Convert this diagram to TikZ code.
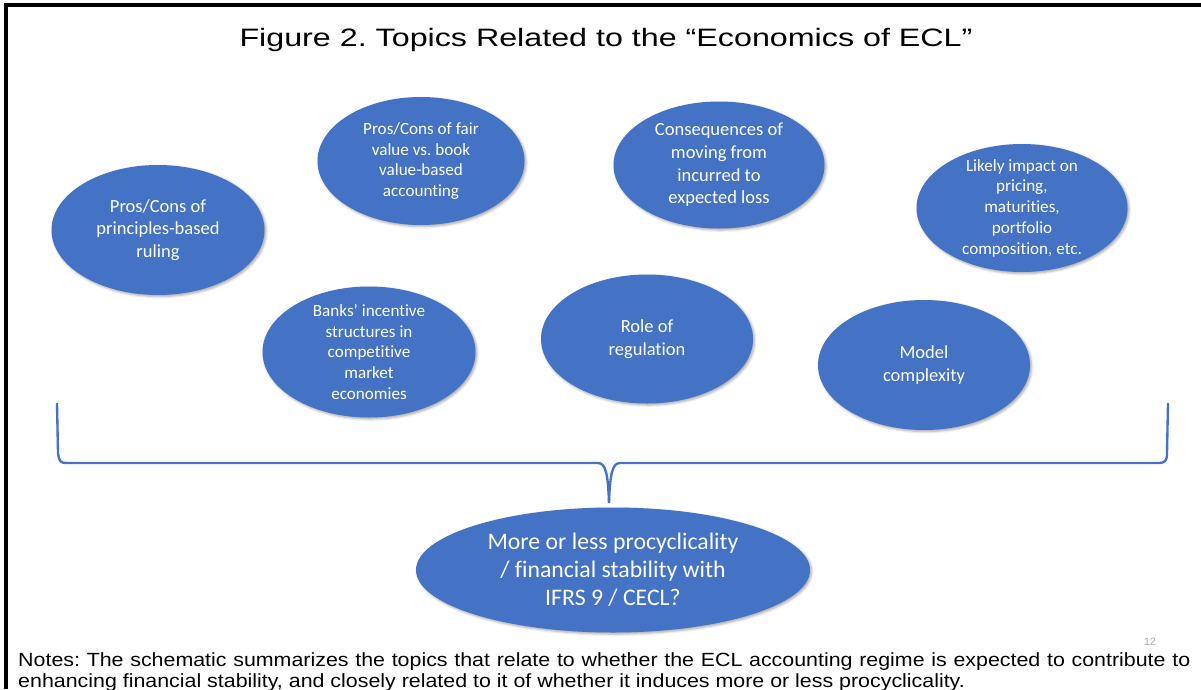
\documentclass[tikz,border=0pt]{standalone}
\usepackage{fontspec}
\setmainfont{Liberation Sans}
\newfontfamily\titlefont[FakeStretch=1.28]{Liberation Sans}
\newfontfamily\notefont[FakeStretch=1.12]{Liberation Sans}
\newfontfamily\topicfont[Ligatures=NoCommon]{Carlito}
\usetikzlibrary{shapes}
\usetikzlibrary{shadows.blur}
\definecolor{ecl-blue}{HTML}{4472C4}
\newcommand{\pxu}{0.03cm}
\frenchspacing
\tikzset{
  topic/.style 2 args={
    ellipse,
    fill=ecl-blue,
    text=white,
    align=center,
    inner sep=-30pt,
    minimum width=#1*\pxu,
    minimum height=#2*\pxu,
    blur shadow={shadow xshift=1.3pt, shadow yshift=-1.3pt, shadow opacity=35, shadow blur steps=4}},
  tsmall/.style={font=\topicfont\fontsize{14.6}{17.7}\selectfont},
  tlarge/.style={font=\topicfont\fontsize{15.8}{19.3}\selectfont},
  tbig/.style={font=\topicfont\fontsize{20.3}{24}\selectfont},
  noteline/.style={font=\notefont\fontsize{16.3}{19.6}\selectfont, anchor=base west, inner xsep=0pt, inner ysep=5pt},
}

\begin{document}
\begin{tikzpicture}[x=\pxu, y=-\pxu,
  brace/.style={draw=ecl-blue, line width=2pt, line join=round}]
  \useasboundingbox (0,0) rectangle (1201,689);

  % frame and title
  \draw[line width=2.6pt] (6,689) -- (6,5) -- (1201,5);
  \node[font=\titlefont\fontsize{21.5}{26}\selectfont, anchor=base] (title) at (606,46)
    {Figure 2. Topics Related to the “Economics of ECL”};

  % topics
  \node[topic={213}{130}, tlarge] (principles) at (158,230) {Pros/Cons of\\principles-based\\ruling};
  \node[topic={207}{128}, tsmall] (fairvalue) at (421,161) {Pros/Cons of fair\\value vs. book\\value-based\\accounting};
  \node[topic={211}{127}, tlarge] (lossmodel) at (719,165) {Consequences of\\moving from\\incurred to\\expected loss};
  \node[topic={211}{128}, tsmall] (impact) at (1022,208) {Likely impact on\\pricing,\\maturities,\\portfolio\\composition, etc.};
  \node[topic={213}{131}, tsmall] (incentives) at (369,352) {Banks’ incentive\\structures in\\competitive\\market\\economies};
  \node[topic={212}{129}, tlarge] (regulation) at (647,339) {Role of\\regulation};
  \node[topic={212}{130}, tlarge] (complexity) at (924,365) {Model\\complexity};

  % question
  \node[topic={394}{125}, tbig] (procyc) at (613,570) {More or less procyclicality\\/ financial stability with\\IFRS 9 / CECL?};

  % brace
  \coordinate (brace-l) at (57,403);
  \coordinate (brace-r) at (1168,403);
  \coordinate (brace-tip) at (609,503);
  \draw[brace] (brace-l) -- (58,453) .. controls (59,462) and (61,463) .. (67,463)
    -- (598,463) .. controls (606,463) and (608,475) .. (brace-tip);
  \draw[brace] (brace-tip) .. controls (610,475) and (612,463) .. (620,463)
    -- (1158,463) .. controls (1165,463) and (1167,461) .. (1167,453) -- (brace-r);

  % notes
  \node[text=black!35, font=\fontsize{9}{11}\selectfont] (pageno) at (1150,642) {12};
  \node[noteline, fill=white] (notes) at (18,666)
    {\makebox[35.16cm][s]{Notes: The schematic summarizes the topics that relate to whether the ECL accounting regime is expected to contribute to}};
  \node[noteline] (notes-cont) at (18,687)
    {enhancing financial stability, and closely related to it of whether it induces more or less procyclicality.};
\end{tikzpicture}
\end{document}
